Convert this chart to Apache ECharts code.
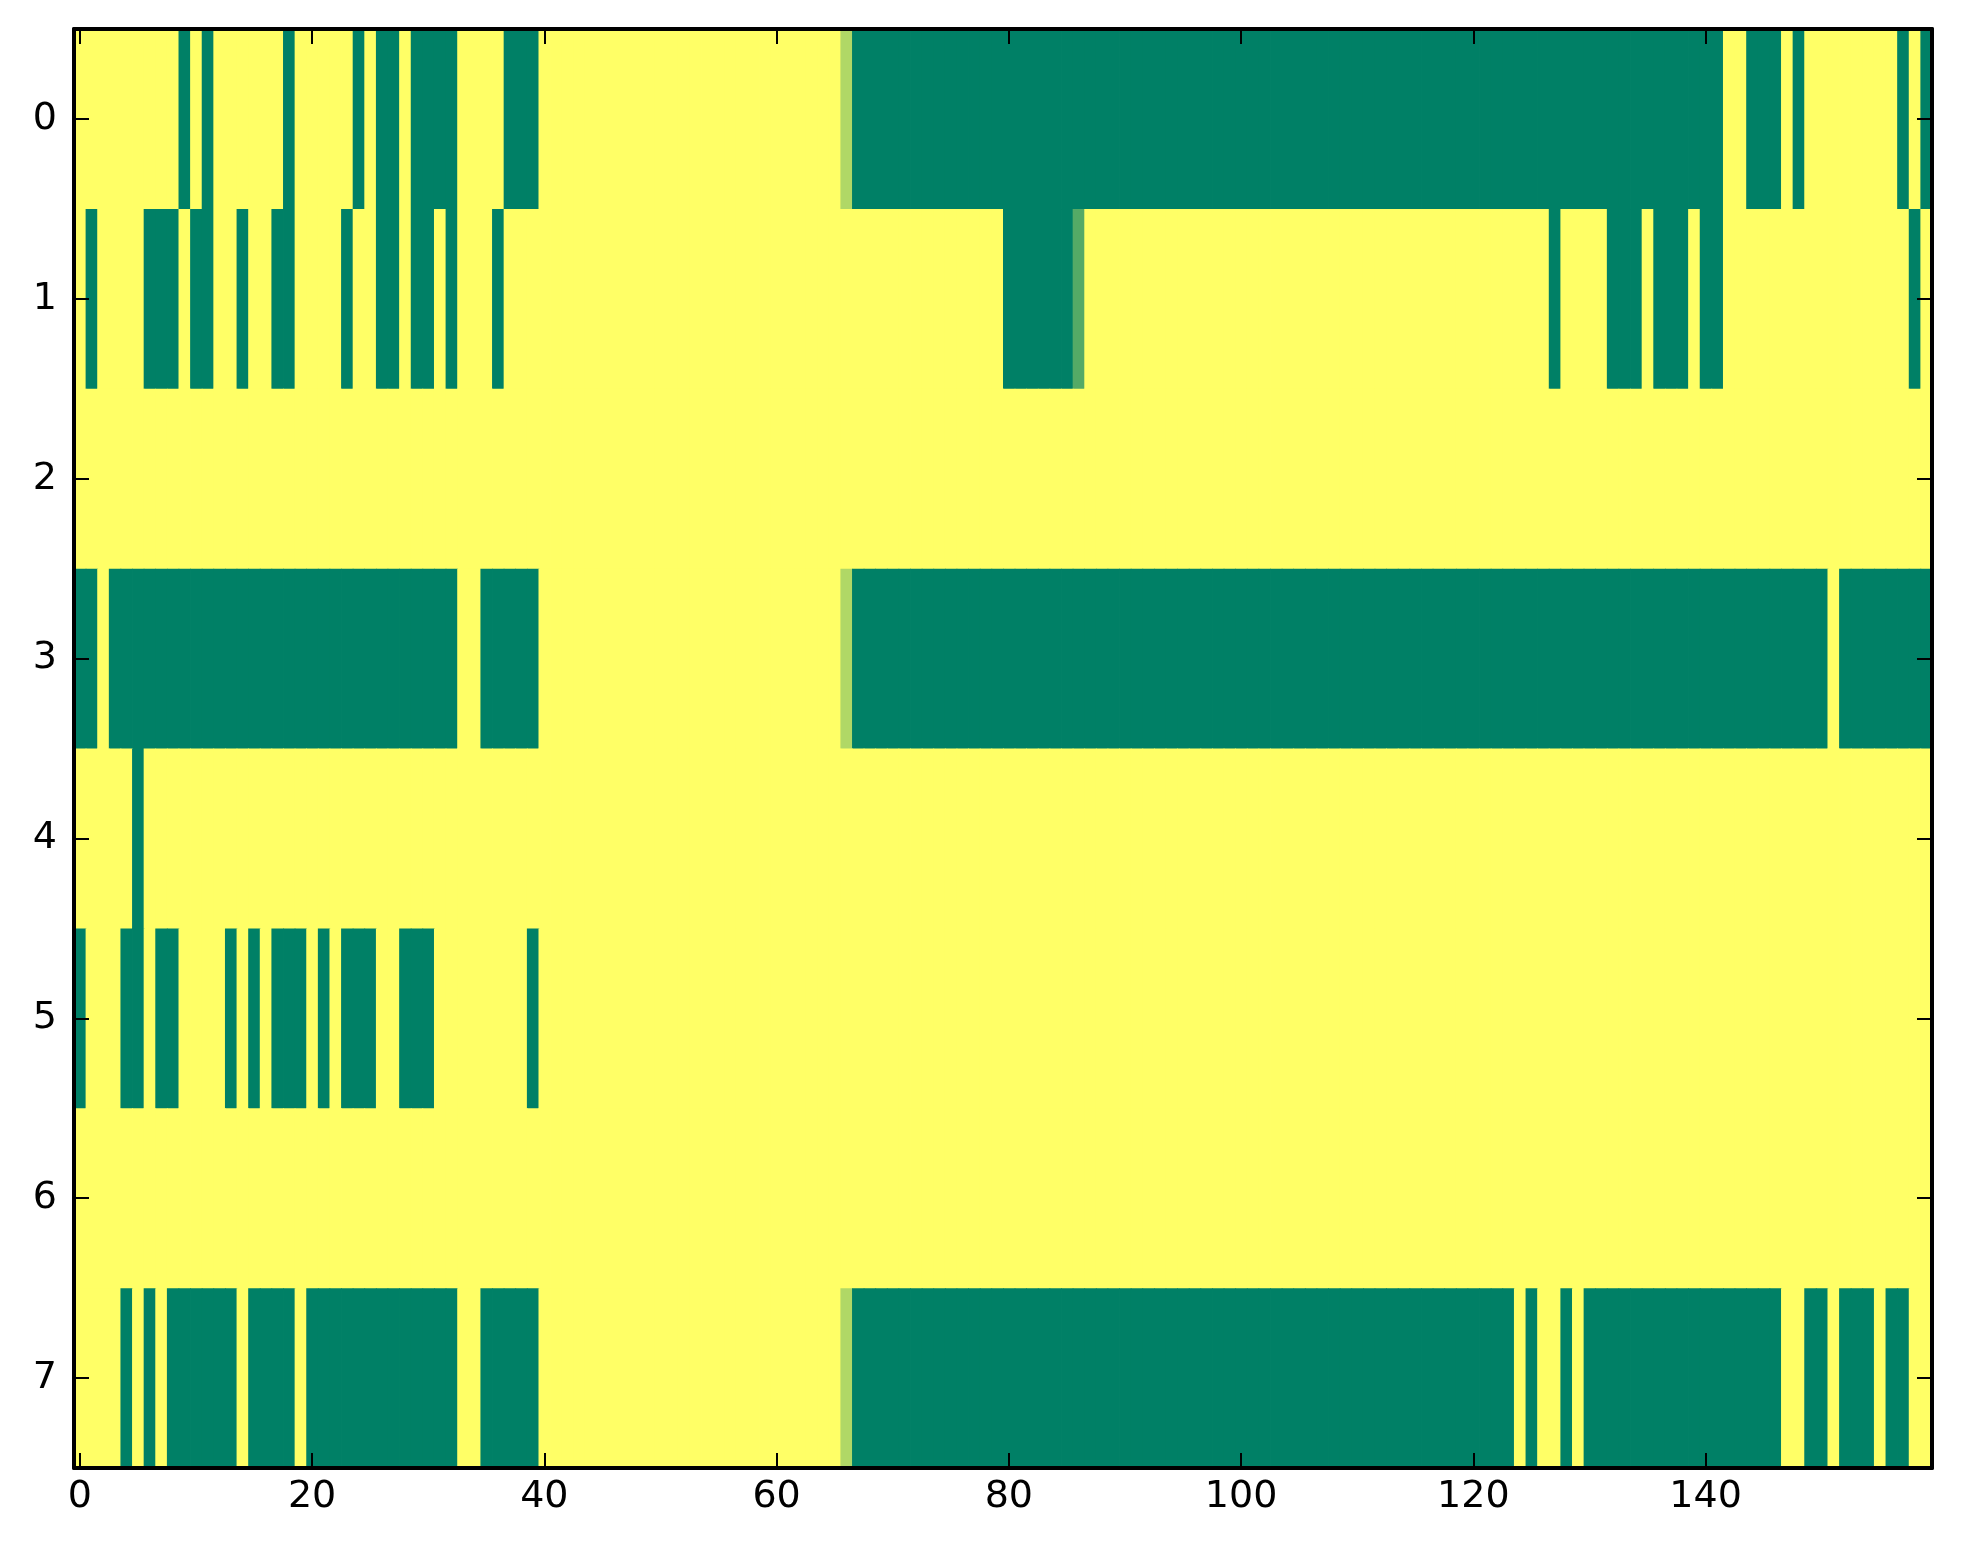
<!DOCTYPE html>
<html>
<head>
<meta charset="utf-8">
<script src="https://cdn.jsdelivr.net/npm/echarts@6/dist/echarts.min.js"></script>
<style>
html,body{margin:0;padding:0;background:#fff;}
#chart{width:1963px;height:1564px;}
</style>
</head>
<body>
<div id="chart"></div>
<script>
// values: 1 = yellow end of colormap, 0 = green end
var row0 = [
1,1,1,1,1,1,1,1,1,0, 1,0,1,1,1,1,1,1,0,1,
1,1,1,1,0,1,0,0,1,0, 0,0,0,1,1,1,1,0,0,0,
1,1,1,1,1,1,1,1,1,1, 1,1,1,1,1,1,1,1,1,1,
1,1,1,1,1,1,0.69,0,0,0, 0,0,0,0,0,0,0,0,0,0,
0,0,0,0,0,0,0,0,0,0, 0,0,0,0,0,0,0,0,0,0,
0,0,0,0,0,0,0,0,0,0, 0,0,0,0,0,0,0,0,0,0,
0,0,0,0,0,0,0,0,0,0, 0,0,0,0,0,0,0,0,0,0,
0,0,1,1,0,0,0,1,0,1, 1,1,1,1,1,1,1,0,1,0
];
var row1 = [
1,0,1,1,1,1,0,0,0,1, 0,0,1,1,0,1,1,0,0,1,
1,1,1,0,1,1,0,0,1,0, 0,1,0,1,1,1,0,1,1,1,
1,1,1,1,1,1,1,1,1,1, 1,1,1,1,1,1,1,1,1,1,
1,1,1,1,1,1,1,1,1,1, 1,1,1,1,1,1,1,1,1,1,
0,0,0,0,0,0,0.33,1,1,1, 1,1,1,1,1,1,1,1,1,1,
1,1,1,1,1,1,1,1,1,1, 1,1,1,1,1,1,1,1,1,1,
1,1,1,1,1,1,1,0,1,1, 1,1,0,0,0,1,0,0,0,1,
0,0,1,1,1,1,1,1,1,1, 1,1,1,1,1,1,1,1,0,1
];
var row2 = [
1,1,1,1,1,1,1,1,1,1, 1,1,1,1,1,1,1,1,1,1,
1,1,1,1,1,1,1,1,1,1, 1,1,1,1,1,1,1,1,1,1,
1,1,1,1,1,1,1,1,1,1, 1,1,1,1,1,1,1,1,1,1,
1,1,1,1,1,1,1,1,1,1, 1,1,1,1,1,1,1,1,1,1,
1,1,1,1,1,1,1,1,1,1, 1,1,1,1,1,1,1,1,1,1,
1,1,1,1,1,1,1,1,1,1, 1,1,1,1,1,1,1,1,1,1,
1,1,1,1,1,1,1,1,1,1, 1,1,1,1,1,1,1,1,1,1,
1,1,1,1,1,1,1,1,1,1, 1,1,1,1,1,1,1,1,1,1
];
var row3 = [
0,0,1,0,0,0,0,0,0,0, 0,0,0,0,0,0,0,0,0,0,
0,0,0,0,0,0,0,0,0,0, 0,0,0,1,1,0,0,0,0,0,
1,1,1,1,1,1,1,1,1,1, 1,1,1,1,1,1,1,1,1,1,
1,1,1,1,1,1,0.69,0,0,0, 0,0,0,0,0,0,0,0,0,0,
0,0,0,0,0,0,0,0,0,0, 0,0,0,0,0,0,0,0,0,0,
0,0,0,0,0,0,0,0,0,0, 0,0,0,0,0,0,0,0,0,0,
0,0,0,0,0,0,0,0,0,0, 0,0,0,0,0,0,0,0,0,0,
0,0,0,0,0,0,0,0,0,0, 0,1,0,0,0,0,0,0,0,0
];
var row4 = [
1,1,1,1,1,0,1,1,1,1, 1,1,1,1,1,1,1,1,1,1,
1,1,1,1,1,1,1,1,1,1, 1,1,1,1,1,1,1,1,1,1,
1,1,1,1,1,1,1,1,1,1, 1,1,1,1,1,1,1,1,1,1,
1,1,1,1,1,1,1,1,1,1, 1,1,1,1,1,1,1,1,1,1,
1,1,1,1,1,1,1,1,1,1, 1,1,1,1,1,1,1,1,1,1,
1,1,1,1,1,1,1,1,1,1, 1,1,1,1,1,1,1,1,1,1,
1,1,1,1,1,1,1,1,1,1, 1,1,1,1,1,1,1,1,1,1,
1,1,1,1,1,1,1,1,1,1, 1,1,1,1,1,1,1,1,1,1
];
var row5 = [
0,1,1,1,0,0,1,0,0,1, 1,1,1,0,1,0,1,0,0,0,
1,0,1,0,0,0,1,1,0,0, 0,1,1,1,1,1,1,1,1,0,
1,1,1,1,1,1,1,1,1,1, 1,1,1,1,1,1,1,1,1,1,
1,1,1,1,1,1,1,1,1,1, 1,1,1,1,1,1,1,1,1,1,
1,1,1,1,1,1,1,1,1,1, 1,1,1,1,1,1,1,1,1,1,
1,1,1,1,1,1,1,1,1,1, 1,1,1,1,1,1,1,1,1,1,
1,1,1,1,1,1,1,1,1,1, 1,1,1,1,1,1,1,1,1,1,
1,1,1,1,1,1,1,1,1,1, 1,1,1,1,1,1,1,1,1,1
];
var row6 = [
1,1,1,1,1,1,1,1,1,1, 1,1,1,1,1,1,1,1,1,1,
1,1,1,1,1,1,1,1,1,1, 1,1,1,1,1,1,1,1,1,1,
1,1,1,1,1,1,1,1,1,1, 1,1,1,1,1,1,1,1,1,1,
1,1,1,1,1,1,1,1,1,1, 1,1,1,1,1,1,1,1,1,1,
1,1,1,1,1,1,1,1,1,1, 1,1,1,1,1,1,1,1,1,1,
1,1,1,1,1,1,1,1,1,1, 1,1,1,1,1,1,1,1,1,1,
1,1,1,1,1,1,1,1,1,1, 1,1,1,1,1,1,1,1,1,1,
1,1,1,1,1,1,1,1,1,1, 1,1,1,1,1,1,1,1,1,1
];
var row7 = [
1,1,1,1,0,1,0,1,0,0, 0,0,0,0,1,0,0,0,0,1,
0,0,0,0,0,0,0,0,0,0, 0,0,0,1,1,0,0,0,0,0,
1,1,1,1,1,1,1,1,1,1, 1,1,1,1,1,1,1,1,1,1,
1,1,1,1,1,1,0.69,0,0,0, 0,0,0,0,0,0,0,0,0,0,
0,0,0,0,0,0,0,0,0,0, 0,0,0,0,0,0,0,0,0,0,
0,0,0,0,0,0,0,0,0,0, 0,0,0,0,0,0,0,0,0,0,
0,0,0,0,1,0,1,1,0,1, 0,0,0,0,0,0,0,0,0,0,
0,0,0,0,0,0,0,1,1,0, 0,1,0,0,0,1,0,0,1,1
];
var rows = [row0, row1, row2, row3, row4, row5, row6, row7];
var xTickLabels = ['0','20','40','60','80','100','120','140'];
var yTickLabels = ['0','1','2','3','4','5','6','7'];

var nCols = row0.length;
var xCats = [];
for (var i = 0; i < nCols; i++) xCats.push(String(i));
var yCats = [];
for (var j = 0; j < rows.length; j++) yCats.push(String(j));

var data = [];
rows.forEach(function (r, y) {
  r.forEach(function (v, x) { data.push([x, y, v]); });
});

var FONT = 'DejaVu Sans';
var showX = function (idx) { return xTickLabels.indexOf(String(idx)) >= 0; };
var lineStyle = { color: '#000', width: 4 };
var tickStyle = { color: '#000', width: 2 };

var chart = echarts.init(document.getElementById('chart'), null, { renderer: 'canvas' });
chart.setOption({
  backgroundColor: '#ffffff',
  animation: false,
  grid: { left: 74, right: 31, top: 29, bottom: 96, containLabel: false },
  xAxis: [
    {
      type: 'category', data: xCats, position: 'bottom', z: 10,
      axisLine: { show: true, lineStyle: lineStyle },
      axisTick: { show: true, inside: true, alignWithLabel: true, length: 15, interval: showX, lineStyle: tickStyle },
      axisLabel: { show: true, interval: showX, color: '#000', fontSize: 38, fontFamily: FONT, margin: 10 },
      splitLine: { show: false }
    },
    {
      type: 'category', data: xCats, position: 'top', z: 10,
      axisLine: { show: true, lineStyle: lineStyle },
      axisTick: { show: true, inside: true, alignWithLabel: true, length: 15, interval: showX, lineStyle: tickStyle },
      axisLabel: { show: false },
      splitLine: { show: false }
    }
  ],
  yAxis: [
    {
      type: 'category', data: yCats, inverse: true, position: 'left', z: 10,
      axisLine: { show: true, lineStyle: lineStyle },
      axisTick: { show: true, inside: true, alignWithLabel: true, length: 15, interval: 0, lineStyle: tickStyle },
      axisLabel: { show: true, interval: 0, color: '#000', fontSize: 38, fontFamily: FONT, margin: 17,
        formatter: function (v, i) { return yTickLabels[i]; } },
      splitLine: { show: false }
    },
    {
      type: 'category', data: yCats, inverse: true, position: 'right', z: 10,
      axisLine: { show: true, lineStyle: lineStyle },
      axisTick: { show: true, inside: true, alignWithLabel: true, length: 15, interval: 0, lineStyle: tickStyle },
      axisLabel: { show: false },
      splitLine: { show: false }
    }
  ],
  visualMap: {
    show: false, type: 'continuous', min: 0, max: 1, dimension: 2, seriesIndex: 0,
    inRange: { color: ['#008066', '#ffff66'] }
  },
  series: [{
    type: 'custom', xAxisIndex: 0, yAxisIndex: 0, data: data, clip: true, z: 1,
    encode: { x: 0, y: 1 },
    renderItem: function (params, api) {
      var p = api.coord([api.value(0), api.value(1)]);
      var s = api.size([1, 1]);
      return {
        type: 'rect',
        shape: { x: p[0] - s[0] / 2, y: p[1] - s[1] / 2, width: s[0] + 0.8, height: s[1] + 0.8 },
        style: { fill: api.visual('color') }
      };
    }
  }]
});
</script>
</body>
</html>
